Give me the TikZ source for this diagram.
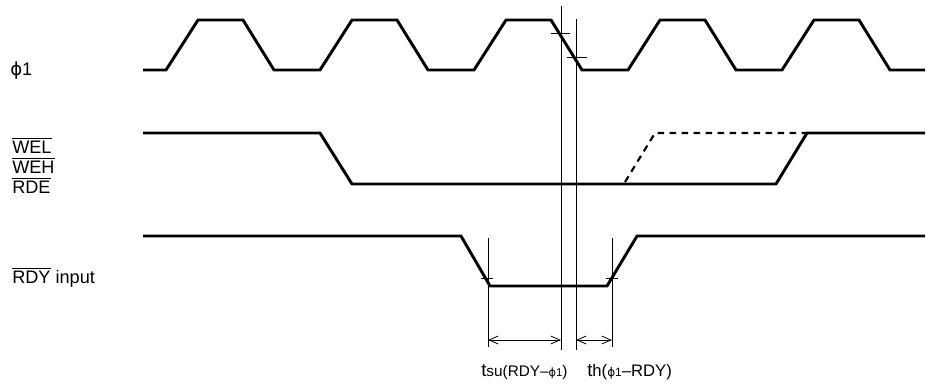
\documentclass[tikz,border=0pt]{standalone}
\usepackage{fontspec}
\setmainfont{Liberation Sans}
\newfontfamily\greekfont{DejaVu Sans}
\usetikzlibrary{arrows.meta}

\newcommand{\ovl}[1]{$\overline{\mbox{#1}}$}
\newcommand{\phione}[1]{{\fontsize{#1}{#1}\selectfont{\greekfont ϕ}1}}

\tikzset{
  sig/.style={line width=2.2pt, line join=miter},
  guide/.style={line width=0.6pt},
  span/.style={guide, {Straight Barb[length=7pt,width=6pt]}-{Straight Barb[length=7pt,width=6pt]}},
  lbl/.style={font=\fontsize{13.6}{15}\selectfont, inner sep=0pt, anchor=base west},
  tlbl/.style={font=\fontsize{14}{15}\selectfont, inner sep=0pt, anchor=base west}
}

\begin{document}
\begin{tikzpicture}[x=0.75pt,y=-0.75pt]
  \useasboundingbox (0,0) rectangle (930,383);

  % Signal names
  \node[lbl] (phi) at (10,75) {\phione{13.6}};
  \node[lbl] (wel) at (12,153) {\ovl{WEL}};
  \node[lbl] (weh) at (12,173) {\ovl{WEH}};
  \node[lbl] (rde) at (12,193) {\ovl{RDE}};
  \node[lbl] (rdy) at (12,283) {\ovl{RDY} input};

  % phi1 clock
  \draw[sig] (143,70) -- (166,70) -- (198,20) -- (243,20) -- (274,70)
    -- (320,70) -- (352,20) -- (397,20) -- (428,70)
    -- (474,70) -- (506,20) -- (551,20) -- (582,70)
    -- (628,70) -- (660,20) -- (705,20) -- (736,70)
    -- (782,70) -- (814,20) -- (859,20) -- (890,70) -- (925,70);

  % WEL / WEH / RDE
  \draw[sig] (143,133) -- (320,133) -- (352,184) -- (776,184) -- (807,133) -- (925,133);
  \draw[sig, line width=1.6pt, dash pattern=on 5pt off 4pt] (625,182) -- (655,133) -- (807,133);

  % RDY input
  \draw[sig] (143,236) -- (461,236) -- (490,286) -- (607,286) -- (637,236) -- (925,236);

  % Timing references
  \coordinate (suL) at (488,340);
  \coordinate (suR) at (561,340);
  \coordinate (hL) at (576,340);
  \coordinate (hR) at (612,340);

  \draw[guide] (561,6) -- (561,350);
  \draw[guide] (576,19) -- (576,350);
  \draw[guide] (488,238) -- (488,347);
  \draw[guide] (612,238) -- (612,347);

  \draw[guide] (551,33) -- (570,33);
  \draw[guide] (567,57) -- (587,57);
  \draw[guide] (481,278) -- (493,278);
  \draw[guide] (606,278) -- (618,278);

  \draw[span] (suL) -- (suR);
  \draw[span] (hL) -- (hR);

  % Timing labels
  \node[tlbl] (tsu) at (481,376) {t{\fontsize{11.5}{12}\selectfont su(RDY–\phione{8.5})}};
  \node[tlbl] (th) at (587,376) {t{\fontsize{12.5}{13}\selectfont h(\phione{9}–RDY)}};
\end{tikzpicture}
\end{document}
